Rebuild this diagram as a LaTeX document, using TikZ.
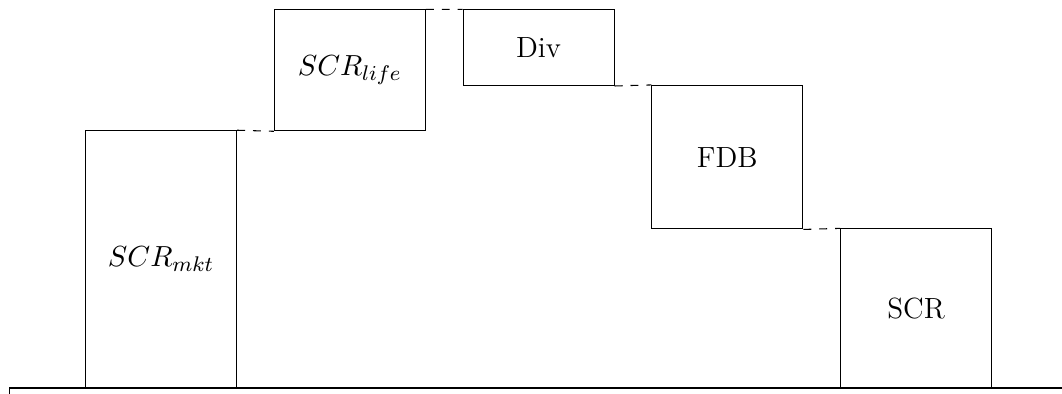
\documentclass[tikz,border=0pt]{standalone}
\begin{document}
\begin{tikzpicture}[
  font=\fontsize{11}{13.6}\selectfont,
  block/.style={draw, rectangle, minimum width=2cm, inner sep=0pt, anchor=south west},
  link/.style={dashed}
]
\useasboundingbox (-1.126,-0.079) rectangle (12.94,5.139);
\clip (-1.126,-0.079) rectangle (12.94,5.139);
% ground line
\draw (-1,-0.5) -- (-1,0) -- (14,0);
% stacked contributions
\node[block, minimum height=3.4cm] (mkt)  at (0,0)    {$SCR_{mkt}$};
\node[block, minimum height=1.6cm] (life) at (2.5,3.4) {$SCR_{life}$};
\node[block, minimum height=1cm]   (div)  at (5,4)    {Div};
\node[block, minimum height=1.9cm] (fdb)  at (7.5,2.1) {FDB};
\node[block, minimum height=2.1cm] (scr)  at (10,0)   {SCR};
% level connectors
\draw[link] (mkt.north east) -- (life.south west);
\draw[link] (life.north east) -- (div.north west);
\draw[link] (div.south east) -- (fdb.north west);
\draw[link] (fdb.south east) -- (scr.north west);
\end{tikzpicture}
\end{document}
